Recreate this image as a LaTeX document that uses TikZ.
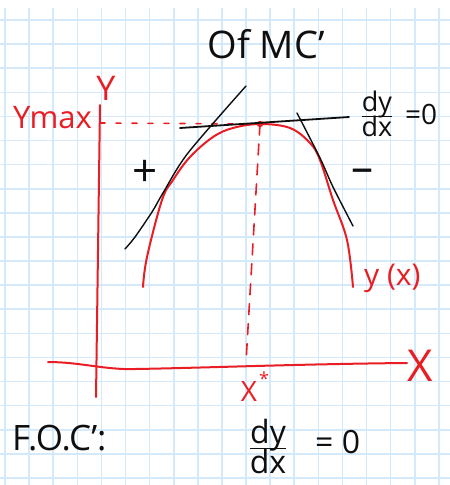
\documentclass[tikz,border=0pt]{standalone}
\usepackage{fontspec}
\setmainfont{Open Sans}
\definecolor{gridblue}{RGB}{212,233,250}
\definecolor{penred}{RGB}{232,30,36}
\definecolor{penblack}{RGB}{15,15,15}
\tikzset{
  gridline/.style={draw=gridblue, line width=1.6pt},
  redpen/.style={draw=penred, line width=2pt, line cap=round, line join=round},
  blackpen/.style={draw=penblack, line width=1.4pt, line cap=round, line join=round},
  redtext/.style={text=penred, inner sep=0pt},
  blacktext/.style={text=penblack, inner sep=0pt},
  fs/.style={font=\fontsize{#1}{#1}\selectfont}
}
\begin{document}
\begin{tikzpicture}[x=1pt,y=-1pt]
\fill[white] (0,0) rectangle (450,485);
\useasboundingbox (0,0) rectangle (450,485);
% grid paper
\foreach \k in {0,...,18} \draw[gridline] ({5+24.1*\k},8) -- ({5+24.1*\k},485);
\foreach \k in {0,...,19} \draw[gridline] (0,{20+24.1*\k}) -- (450,{20+24.1*\k});

% key points
\coordinate (ytop) at (100,105);
\coordinate (ybot) at (96,397);
\coordinate (xleft) at (48,362);
\coordinate (xright) at (407,363);
\coordinate (peak) at (260,124);
\coordinate (xstar) at (246,362);
\coordinate (ymaxpt) at (100,123);

% axes
\draw[redpen] (ytop) -- (ybot);
\draw[redpen] (xleft) .. controls (80,362) and (105,370) .. (135,369) .. controls (200,368) and (300,364) .. (xright);

% dashed guides
\draw[redpen, line width=1.6pt, dash pattern=on 5pt off 11pt] (ymaxpt) -- (peak);
\draw[redpen, line width=1.6pt, dash pattern=on 11pt off 9pt] (peak) -- (xstar);

% curve y(x)
\draw[redpen] plot[smooth, tension=0.6] coordinates {(143,287) (147,257) (162,200) (173,180) (190,157) (213,137) (233,128) (260,124) (290,128) (310,143) (320,160) (333,200) (347,240) (353,287)};
\fill[penred] (peak) circle (3.2pt);

% tangents
\coordinate (th1) at (180,128);
\coordinate (th2) at (349,117);
\draw[blackpen, line width=1.8pt] (th1) -- (th2);
\coordinate (tl1) at (246,86);
\coordinate (tl2) at (125,249);
\draw[blackpen] plot[smooth, tension=0.5] coordinates {(tl1) (188,153) (163,193) (152,212) (135,237) (tl2)};
\coordinate (tr1) at (297,113);
\coordinate (tr2) at (353,226);
\draw[blackpen] plot[smooth, tension=0.5] coordinates {(tr1) (320,158) (333,187) (tr2)};

% labels
\node[blacktext, fs=38] (title) at (266,44) {Of MC\char"27};
\node[redtext, fs=34] (ylab) at (106,88) {Y};
\node[redtext, fs=31, anchor=east] (ymax) at (92,118) {Ymax};
\node[blacktext, fs=44] (plus) at (145,173) {+};
\node[blacktext, fs=44] (minus) at (362,176) {\char"2013};
\node[blacktext, fs=27] (dydx1) at (377,118) {\begin{tabular}{@{}c@{}}dy\\[-4pt]\hline\rule{0pt}{19pt}dx\end{tabular}};
\node[blacktext, fs=28, anchor=west] (eq1) at (405,114) {=0};
\node[redtext, fs=30, anchor=west] (yx) at (364,278) {y (x)};
\node[redtext, fs=44] (xlab) at (420,366) {X};
\node[redtext, fs=28] (xs) at (249,392) {X};
\node[redtext, fs=18] (star) at (264,379) {*};
\node[blacktext, fs=35, anchor=west] (foc) at (12,438) {F.O.C\char"27:};
\node[blacktext, fs=32] (dydx2) at (268,451) {\begin{tabular}{@{}c@{}}dy\\[-5pt]\hline\rule{0pt}{21pt}dx\end{tabular}};
\node[blacktext, fs=32, anchor=west] (eq2) at (315,442) {= 0};
\end{tikzpicture}
\end{document}
